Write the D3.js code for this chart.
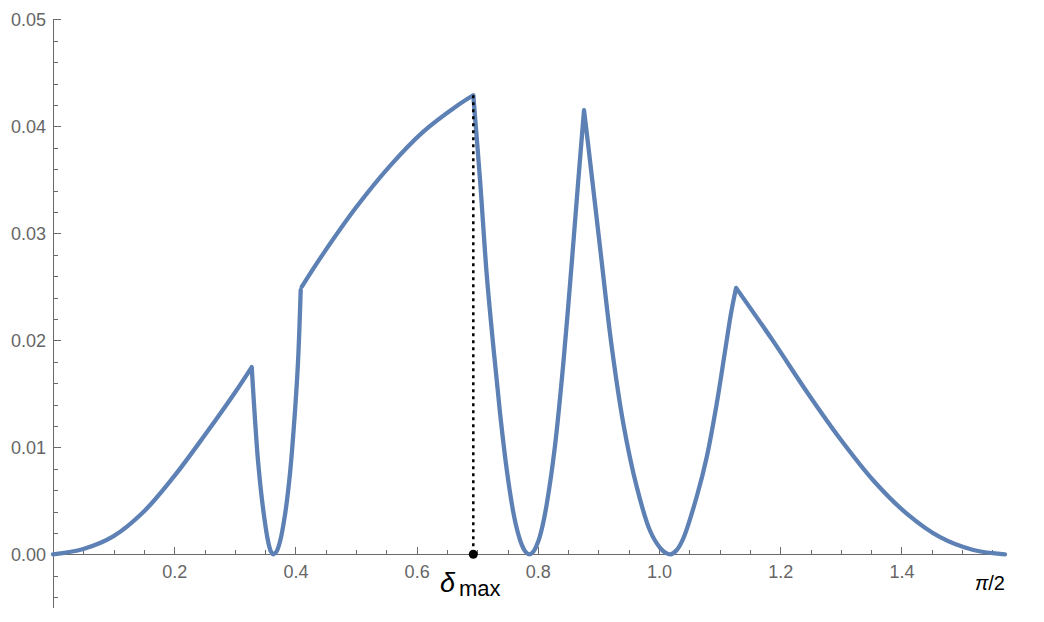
<!DOCTYPE html>
<html lang="en">
<head>
<meta charset="utf-8">
<title>delta max</title>
<script src="https://cdn.jsdelivr.net/npm/d3@7"></script>
<style>
  body { margin: 0; background: #fff; }
  .axis path, .axis line { stroke: #6a6a6a; stroke-width: 1; shape-rendering: crispEdges; }
  .axis text { font-family: "Liberation Sans", Arial, sans-serif; font-size: 18px; fill: #666; }
</style>
</head>
<body>
<script>
// curve pieces (x in radians, y value)
var pieceA = [[0, 0], [0.05, 0.0005], [0.10, 0.0017], [0.15, 0.0040], [0.20, 0.0073],
              [0.25, 0.0111], [0.30, 0.0151], [0.3279, 0.0175]];
var pieceB = [[0.3279, 0.0175], [0.3333, 0.0126], [0.3388, 0.0084], [0.3470, 0.0041],
              [0.3553, 0.0011], [0.3597, 0.00025], [0.3639, 0], [0.3688, 0.00025],
              [0.3746, 0.0012], [0.3828, 0.0037], [0.3911, 0.0076], [0.3993, 0.0134],
              [0.4043, 0.0180], [0.4087, 0.0247]];
var pieceC = [[0.4104, 0.0250], [0.4460, 0.0281], [0.5012, 0.0325], [0.5561, 0.0363],
              [0.6111, 0.0395], [0.6662, 0.0419], [0.6935, 0.0429]];
var pieceD = [[0.6935, 0.0429], [0.7046, 0.0350], [0.7157, 0.0261], [0.7266, 0.0194],
              [0.7376, 0.0132], [0.7487, 0.0079], [0.7596, 0.0039], [0.7662, 0.0022],
              [0.7734, 0.0009], [0.7794, 0.00025], [0.7860, 0], [0.7926, 0.00025],
              [0.8009, 0.00125], [0.8075, 0.0026], [0.8147, 0.0047], [0.8284, 0.0102],
              [0.8421, 0.0179], [0.8559, 0.0272], [0.8668, 0.0350], [0.8762, 0.0415]];
var pieceE = [[0.8762, 0.0415], [0.8834, 0.0381], [0.9026, 0.0287], [0.9219, 0.0194],
              [0.9411, 0.0122], [0.9632, 0.0063], [0.9851, 0.0022], [1.0017, 0.0006],
              [1.0110, 0.00013], [1.0193, 0], [1.0292, 0.0004], [1.0401, 0.0015],
              [1.0622, 0.0054], [1.0787, 0.0091], [1.0952, 0.0141], [1.1089, 0.0190],
              [1.1190, 0.0226], [1.1271, 0.0249]];
var pieceF = [[1.1271, 0.0249], [1.1886, 0.0199], [1.2437, 0.0152], [1.2987, 0.0108],
              [1.3536, 0.0069], [1.4087, 0.0038], [1.4637, 0.0016], [1.5187, 0.0004],
              [Math.PI / 2, 0]];
// true = continues from the previous piece (no gap)
var pieces = [pieceA, pieceB, pieceC, pieceD, pieceE, pieceF];
var joined = [false, true, false, true, true, true];

var deltaMax = 0.6935, deltaMaxValue = 0.0429;

var xMajor = [0.2, 0.4, 0.6, 0.8, 1.0, 1.2, 1.4];
var yMajor = [0, 0.01, 0.02, 0.03, 0.04, 0.05];

var w = 1044, h = 622;

var xScale = d3.scaleLinear().domain([0, Math.PI / 2]).range([53, 1005]);
var yScale = d3.scaleLinear().domain([-0.005, 0.05]).range([607.8, 19.3]);

var svg = d3.select("body").append("svg")
    .attr("width", w)
    .attr("height", h);

// minor ticks
var xMinor = d3.range(1, 32).map(function(i) { return i * 0.05; })
    .filter(function(v) { return Math.abs(v * 5 - Math.round(v * 5)) > 1e-6; });
var yMinor = d3.range(-2, 25).map(function(i) { return i * 0.002; })
    .filter(function(v) { return Math.abs(v * 100 - Math.round(v * 100)) > 1e-6; });

svg.append("g")
    .attr("class", "axis")
    .attr("transform", "translate(0," + yScale(0) + ")")
    .call(d3.axisBottom(xScale).tickValues(xMinor).tickSize(-4.5).tickSizeOuter(0).tickFormat(""));
svg.append("g")
    .attr("class", "axis")
    .attr("transform", "translate(0," + yScale(0) + ")")
    .call(d3.axisBottom(xScale).tickValues(xMajor).tickSize(-7).tickSizeOuter(0)
        .tickPadding(11).tickFormat(d3.format(".1f")));

svg.append("g")
    .attr("class", "axis")
    .attr("transform", "translate(" + xScale(0) + ",0)")
    .call(d3.axisLeft(yScale).tickValues(yMinor).tickSize(-4.5).tickSizeOuter(0).tickFormat(""));
svg.append("g")
    .attr("class", "axis")
    .attr("transform", "translate(" + xScale(0) + ",0)")
    .call(d3.axisLeft(yScale).tickValues(yMajor).tickSize(-8).tickSizeOuter(0)
        .tickPadding(7).tickFormat(d3.format(".2f")));

// pi/2 label at the end of the axis
svg.append("text")
    .attr("x", xScale(Math.PI / 2))
    .attr("y", 590)
    .attr("text-anchor", "end")
    .attr("font-family", "Liberation Sans, Arial, sans-serif")
    .attr("font-size", "20px")
    .attr("fill", "#000")
    .html('<tspan font-style="italic">π</tspan>/2');

// curve
var line = d3.line()
    .x(function(d) { return xScale(d[0]); })
    .y(function(d) { return yScale(d[1]); })
    .curve(d3.curveCatmullRom.alpha(0.5));

var pathStr = "";
pieces.forEach(function(p, i) {
    var s = line(p);
    if (joined[i]) s = s.replace(/^M/, "L");
    pathStr += s;
});

svg.append("path")
    .attr("d", pathStr)
    .attr("fill", "none")
    .attr("stroke", "#5e81b5")
    .attr("stroke-width", 4.3)
    .attr("stroke-linejoin", "round")
    .attr("stroke-linecap", "round");

// delta max marker
svg.append("line")
    .attr("x1", xScale(deltaMax)).attr("x2", xScale(deltaMax))
    .attr("y1", yScale(deltaMaxValue)).attr("y2", yScale(0))
    .attr("stroke", "#000")
    .attr("stroke-width", 2.5)
    .attr("stroke-dasharray", "3,4");

svg.append("circle")
    .attr("cx", xScale(deltaMax))
    .attr("cy", yScale(0))
    .attr("r", 4.5)
    .attr("fill", "#000");

var lab = svg.append("text")
    .attr("x", 440)
    .attr("y", 592)
    .attr("font-family", "Liberation Sans, Arial, sans-serif")
    .attr("fill", "#000");
lab.append("tspan").attr("font-style", "italic").attr("font-size", "27px").text("δ");
lab.append("tspan").attr("x", 459).attr("dy", 4).attr("font-size", "22px").text("max");
</script>
</body>
</html>
